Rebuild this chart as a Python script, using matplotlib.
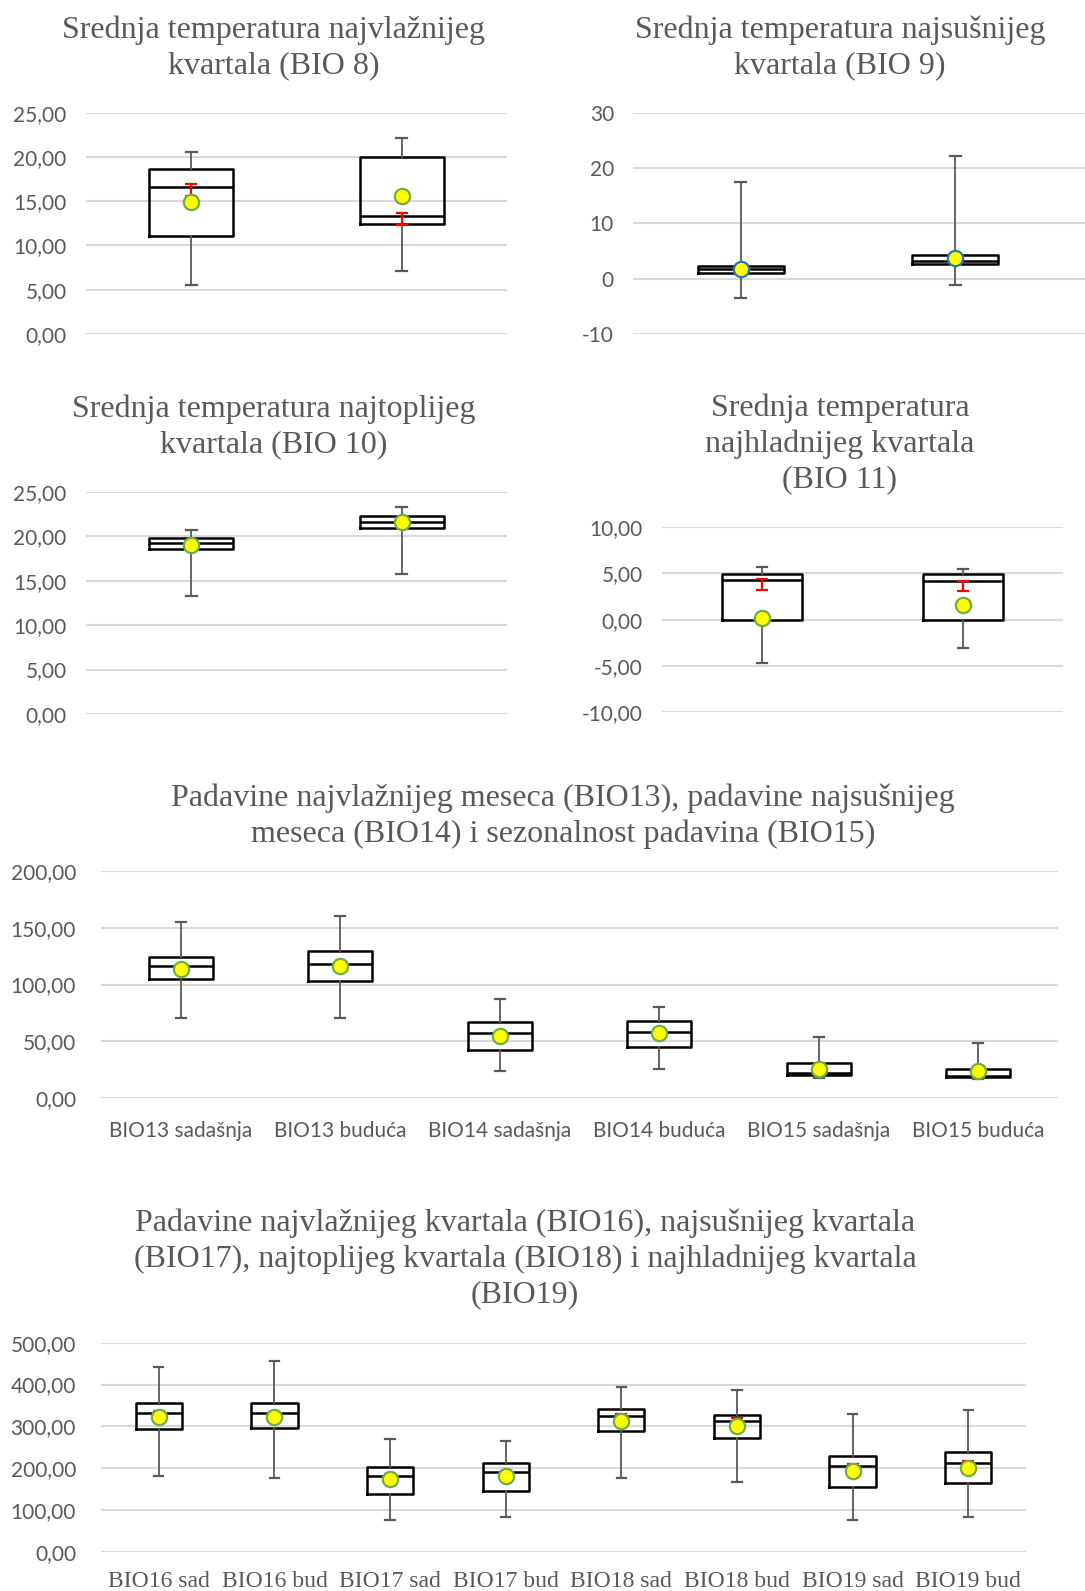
import matplotlib
matplotlib.use("Agg")
import matplotlib.pyplot as plt
from matplotlib.ticker import FuncFormatter

W, H = 1085, 1591

# ---------------- data ----------------
# each box: (whislo, q1, med, q3, whishi, mean)
bio8 = [(5.5, 11.1, 16.64, 18.6, 20.6, 14.9), (7.08, 12.39, 13.33, 19.99, 22.18, 15.63)]
bio8_ci = [(15.6, 17.0), (12.31, 13.67)]

bio9 = [(-3.5, 1.0, 1.7, 2.35, 17.5, 1.7), (-1.1, 2.6, 3.2, 4.2, 22.2, 3.8)]

bio10 = [(13.3, 18.52, 19.19, 19.75, 20.69, 19.0), (15.78, 20.95, 21.63, 22.26, 23.28, 21.6)]

bio11 = [(-4.66, 0.0, 4.26, 4.95, 5.67, 0.14), (-3.1, 0.0, 4.15, 4.91, 5.49, 1.62)]
bio11_ci = [(3.25, 4.4), (3.1, 4.22)]

p5_labels = ["BIO13 sadašnja", "BIO13 buduća", "BIO14 sadašnja", "BIO14 buduća",
             "BIO15 sadašnja", "BIO15 buduća"]
p5 = [(70.9, 104.8, 116.0, 124.2, 155.2, 113.9),
      (70.9, 102.8, 118.0, 129.1, 159.9, 116.3),
      (24.0, 42.8, 57.1, 67.1, 87.0, 55.0),
      (25.8, 44.8, 58.3, 67.9, 79.9, 57.1),
      (17.9, 20.5, 22.0, 30.7, 53.6, 26.1),
      (17.3, 19.0, 20.0, 26.1, 48.9, 24.0)]

p6_labels = ["BIO16 sad", "BIO16 bud", "BIO17 sad", "BIO17 bud",
             "BIO18 sad", "BIO18 bud", "BIO19 sad", "BIO19 bud"]
p6 = [(181.0, 294.3, 331.7, 356.5, 441.0, 323.0),
      (177.0, 296.7, 331.0, 356.5, 455.3, 323.0),
      (75.0, 138.0, 181.8, 203.3, 270.0, 173.0),
      (83.0, 144.3, 190.6, 213.0, 264.0, 181.0),
      (177.0, 288.0, 325.4, 342.0, 394.0, 311.8),
      (166.7, 272.7, 313.4, 327.8, 386.8, 300.6),
      (75.0, 153.9, 205.0, 228.9, 328.5, 193.0),
      (83.0, 164.3, 213.0, 238.4, 339.7, 201.0)]
p6_ci = [(326, 337), (326, 335), (176, 185), (186, 194),
         (318, 330), (307, 319), (198, 209), (206, 218)]

titles = [
    "Srednja temperatura najvlažnijeg\nkvartala (BIO 8)",
    "Srednja temperatura najsušnijeg\nkvartala (BIO 9)",
    "Srednja temperatura najtoplijeg\nkvartala (BIO 10)",
    "Srednja temperatura\nnajhladnijeg kvartala\n(BIO 11)",
    "Padavine najvlažnijeg meseca (BIO13), padavine najsušnijeg\nmeseca (BIO14) i sezonalnost padavina (BIO15)",
    "Padavine najvlažnijeg kvartala (BIO16), najsušnijeg kvartala\n(BIO17), najtoplijeg kvartala (BIO18) i najhladnijeg kvartala\n(BIO19)",
]

# ---------------- styling ----------------
GRAY = "#595959"
GRID = "#D9D9D9"
SANS = ["Lato", "DejaVu Sans"]
SERIF = ["Liberation Serif", "DejaVu Serif"]

fig = plt.figure(figsize=(W / 100, H / 100), dpi=100)
fig.patch.set_facecolor("white")


def px_axes(l, t, r, b):
    return fig.add_axes([l / W, 1 - b / H, (r - l) / W, (b - t) / H])


def draw(ax, boxes, ylim, step, fmt, cap_frac, edge="#70AD47", ci=None, labels=None,
         label_font=SANS, label_size=15, ms=11, xmax_extra=0.0):
    n = len(boxes)
    pos = list(range(1, n + 1))
    stats = []
    for (lo, q1, med, q3, hi, mean) in boxes:
        stats.append(dict(whislo=lo, q1=q1, med=med, q3=q3, whishi=hi, mean=mean, fliers=[]))
    ax.bxp(stats, positions=pos, widths=0.4, showmeans=True, showfliers=False,
           capwidths=cap_frac,
           boxprops=dict(color="black", linewidth=1.8),
           medianprops=dict(color="black", linewidth=1.8),
           whiskerprops=dict(color=GRAY, linewidth=1.3),
           capprops=dict(color=GRAY, linewidth=1.6),
           meanprops=dict(marker="o", markerfacecolor="#FFFF00", markeredgecolor=edge,
                          markeredgewidth=1.6, markersize=ms, zorder=5))
    if ci is not None:
        for x, (lo, hi), b in zip(pos, ci, boxes):
            med = b[2]
            ax.errorbar([x], [med], yerr=[[med - lo], [hi - med]], fmt="none",
                        ecolor="#FF0000", elinewidth=1.6, capsize=4.5, capthick=1.6, zorder=4)
    ax.set_xlim(0.5, n + 0.5 + xmax_extra)
    ax.set_ylim(*ylim)
    ticks = []
    v = ylim[0]
    while v <= ylim[1] + 1e-9:
        ticks.append(v)
        v += step
    ax.set_yticks(ticks)
    ax.yaxis.set_major_formatter(FuncFormatter(fmt))
    ax.grid(axis="y", color=GRID, linewidth=1.5)
    ax.set_axisbelow(True)
    for s in ax.spines.values():
        s.set_visible(False)
    ax.tick_params(axis="y", length=0, pad=14, labelsize=15, labelcolor=GRAY)
    for t in ax.get_yticklabels():
        t.set_fontfamily(SANS)
    if labels is None:
        ax.set_xticks([])
    else:
        ax.set_xticks(pos)
        ax.set_xticklabels(labels, fontfamily=label_font, fontsize=label_size, color=GRAY)
        ax.tick_params(axis="x", length=0, pad=16)
    ax.set_facecolor("none")


def f2(v, _):
    return f"{v:.2f}".replace(".", ",")


def f0(v, _):
    return f"{v:.0f}"


ax1 = px_axes(86, 112.7, 507, 334)
draw(ax1, bio8, (0, 25), 5, f2, 0.05, ci=bio8_ci)

ax2 = px_axes(633.4, 112.7, 1085, 334)
draw(ax2, bio9, (-10, 30), 10, f0, 0.05, edge="#2E75B6", xmax_extra=0.104)

ax3 = px_axes(86, 491.7, 507, 714)
draw(ax3, bio10, (0, 25), 5, f2, 0.05)

ax4 = px_axes(662, 527.3, 1063, 712)
draw(ax4, bio11, (-10, 10), 5, f2, 0.05, ci=bio11_ci)

ax5 = px_axes(101, 870.7, 1058, 1098.3)
draw(ax5, p5, (0, 200), 50, f2, 0.06, labels=p5_labels, label_font=SANS, label_size=15)
ax5.tick_params(axis="y", pad=18)

ax6 = px_axes(101, 1342.7, 1026, 1551.7)
draw(ax6, p6, (0, 500), 100, f2, 0.08, ci=p6_ci, labels=p6_labels, label_font=SERIF,
     label_size=17)
ax6.tick_params(axis="y", pad=18)
ax6.tick_params(axis="x", pad=14)

# titles
title_pos = [(274, 47.7), (840, 47.7), (274, 426.5), (840, 443.5), (563, 816), (525, 1258.6)]
for txt, (x, y) in zip(titles, title_pos):
    fig.text(x / W, 1 - y / H, txt, ha="center", va="center", fontsize=23,
             family=SERIF, color=GRAY, linespacing=1.29)

fig.savefig("out.png", dpi=100, facecolor="white")
